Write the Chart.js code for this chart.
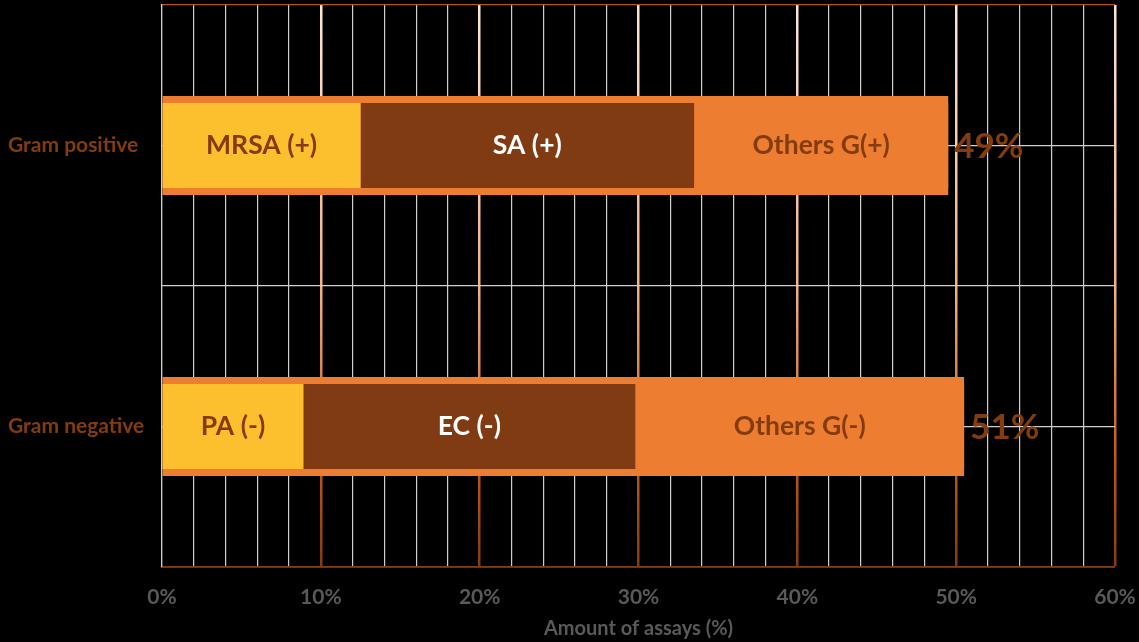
<!DOCTYPE html>
<html>
<head>
<meta charset="utf-8">
<script src="https://cdn.jsdelivr.net/npm/chart.js@4.4.0/dist/chart.umd.min.js"></script>
<style>
  html, body { margin: 0; padding: 0; background: #000; }
  #wrap { width: 1139px; height: 642px; }
</style>
</head>
<body>
<div id="wrap"><canvas id="assayChart" width="1139" height="642"></canvas></div>
<script>
// data (percent of assays)
var categories = ["Gram positive", "Gram negative"];
var firstValues = [12.5, 8.9];      // MRSA (+) / PA (-)
var secondValues = [21.0, 20.9];    // SA (+) / EC (-)
var otherValues = [16.0, 20.7];     // Others G(+) / Others G(-)
var totalValues = [49.5, 50.5];
var firstNames = ["MRSA (+)", "PA (-)"];
var secondNames = ["SA (+)", "EC (-)"];
var otherNames = ["Others G(+)", "Others G(-)"];
var totalNames = ["49%", "51%"];
var xTicks = { min: 0, max: 60, step: 2, labelEvery: 10 };

var FONT = "Lato, 'Open Sans', sans-serif";
var BROWN = "#843c0c";
var ORANGE = "#ed7d31";
var GOLD = "#fcbf2d";
var GREY = "#595959";
var MINOR = "#cfcfcf";

var majorGradient = null;
function majorColor(chart) {
    var area = chart.chartArea;
    if (!area) return "#c55a11";
    if (!majorGradient) {
        majorGradient = chart.ctx.createLinearGradient(0, area.top, 0, area.bottom);
        majorGradient.addColorStop(0, "#fbe5d6");
        majorGradient.addColorStop(0.5, "#f4b183");
        majorGradient.addColorStop(0.8, "#c55a11");
        majorGradient.addColorStop(1, "#843c0c");
    }
    return majorGradient;
}

// text inside / beside the bars
var barLabels = {
    id: "barLabels",
    afterDatasetsDraw: function(chart) {
        var ctx = chart.ctx;
        ctx.save();
        ctx.textBaseline = "middle";
        chart.data.datasets.forEach(function(ds, i) {
            var meta = chart.getDatasetMeta(i);
            meta.data.forEach(function(bar, j) {
                var text = ds.names[j];
                if (ds.stack === "total") {
                    ctx.font = "bold 35px " + FONT;
                    ctx.textAlign = "left";
                    ctx.fillStyle = BROWN;
                    ctx.fillText(text, bar.x + 6, bar.y + 1);
                } else {
                    ctx.font = "bold 26.5px " + FONT;
                    ctx.textAlign = "center";
                    ctx.fillStyle = ds.textColor;
                    ctx.fillText(text, (bar.x + bar.base) / 2, bar.y);
                }
            });
        });
        ctx.restore();
    }
};

var ctx = document.getElementById("assayChart").getContext("2d");
var assayChart = new Chart(ctx, {
    type: "bar",
    data: {
        labels: categories,
        datasets: [
            { label: "first", data: firstValues, names: firstNames, textColor: BROWN,
              backgroundColor: GOLD, stack: "parts", grouped: false, barPercentage: 0.303, categoryPercentage: 1 },
            { label: "second", data: secondValues, names: secondNames, textColor: "#ffffff",
              backgroundColor: "#813b13", stack: "parts", grouped: false, barPercentage: 0.303, categoryPercentage: 1 },
            { label: "others", data: otherValues, names: otherNames, textColor: BROWN,
              backgroundColor: ORANGE, stack: "parts", grouped: false, barPercentage: 0.303, categoryPercentage: 1 },
            { label: "total", data: totalValues, names: totalNames,
              backgroundColor: ORANGE, stack: "total", grouped: false, barPercentage: 0.353, categoryPercentage: 1 }
        ]
    },
    options: {
        indexAxis: "y",
        responsive: false,
        animation: false,
        layout: { padding: { left: 8, right: 24, top: 5, bottom: 1 } },
        plugins: { legend: { display: false }, tooltip: { enabled: false } },
        scales: {
            x: {
                stacked: true,
                min: xTicks.min,
                max: xTicks.max,
                grid: {
                    drawTicks: false,
                    color: function(c) {
                        var v = c.tick ? c.tick.value : 0;
                        return (v !== 0 && v % xTicks.labelEvery === 0) ? majorColor(c.chart) : MINOR;
                    },
                    lineWidth: function(c) {
                        var v = c.tick ? c.tick.value : 0;
                        return (v !== 0 && v % xTicks.labelEvery === 0) ? 2.5 : 1.2;
                    }
                },
                border: { color: BROWN, width: 1.5 },
                ticks: {
                    stepSize: xTicks.step,
                    autoSkip: false,
                    maxRotation: 0,
                    padding: 18,
                    color: GREY,
                    font: { family: FONT, size: 21, weight: "bold" },
                    callback: function(v) { return v % xTicks.labelEvery === 0 ? v + "%" : ""; }
                },
                title: {
                    display: true,
                    text: "Amount of assays (%)",
                    color: GREY,
                    font: { family: FONT, size: 20, weight: "bold" },
                    padding: { top: 2, bottom: 0 }
                },
                afterFit: function(s) {
                    s.height = 74;
                    s.paddingLeft = 0;
                    s.paddingRight = 0;
                }
            },
            y: {
                stacked: true,
                offset: true,
                grid: {
                    offset: true,
                    drawTicks: false,
                    color: function(c) { return c.index === 0 ? "#b4531a" : MINOR; },
                    lineWidth: 1.2
                },
                border: { color: MINOR, width: 1.2 },
                ticks: {
                    crossAlign: "far",
                    color: BROWN,
                    font: { family: FONT, size: 21, weight: "bold" }
                },
                afterFit: function(s) {
                    s.width = 154;
                    s.paddingTop = 0;
                    s.paddingBottom = 0;
                }
            },
            yCenter: {
                type: "category",
                position: "left",
                labels: categories,
                offset: true,
                grid: { offset: false, drawTicks: false, color: MINOR, lineWidth: 1.2 },
                border: { display: false },
                ticks: { display: false },
                afterFit: function(s) {
                    s.width = 0;
                    s.paddingTop = 0;
                    s.paddingBottom = 0;
                }
            }
        }
    },
    plugins: [barLabels]
});
</script>
</body>
</html>
